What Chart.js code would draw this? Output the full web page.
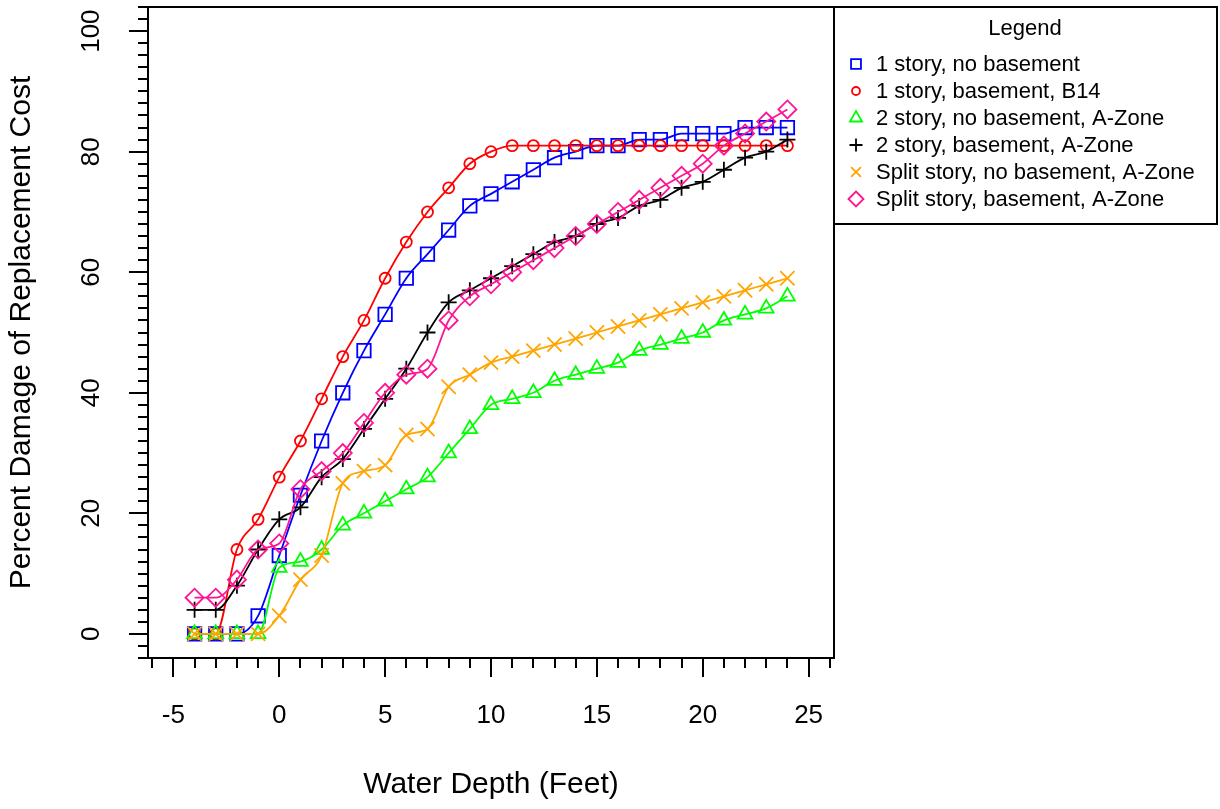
<!DOCTYPE html>
<html>
<head>
<meta charset="utf-8">
<script src="https://cdn.jsdelivr.net/npm/chart.js@4.4.1/dist/chart.umd.min.js"></script>
<style>
  body { margin: 0; background: #fff; }
  canvas { display: block; }
</style>
</head>
<body>
<canvas id="grafico" width="1220" height="809"></canvas>
<script>
// profundidade da agua (pes)
const profundidade = [-4, -3, -2, -1, 0, 1, 2, 3, 4, 5, 6, 7, 8, 9, 10, 11, 12, 13, 14, 15, 16, 17, 18, 19, 20, 21, 22, 23, 24];

const umAndarSemPorao = [0, 0, 0, 3, 13, 23, 32, 40, 47, 53, 59, 63, 67, 71, 73, 75, 77, 79, 80, 81, 81, 82, 82, 83, 83, 83, 84, 84, 84];
const umAndarComPorao = [0, 0, 14, 19, 26, 32, 39, 46, 52, 59, 65, 70, 74, 78, 80, 81, 81, 81, 81, 81, 81, 81, 81, 81, 81, 81, 81, 81, 81];
const doisAndaresSemPorao = [0, 0, 0, 0, 11, 12, 14, 18, 20, 22, 24, 26, 30, 34, 38, 39, 40, 42, 43, 44, 45, 47, 48, 49, 50, 52, 53, 54, 56];
const doisAndaresComPorao = [4, 4, 8, 14, 19, 21, 26, 29, 34, 39, 44, 50, 55, 57, 59, 61, 63, 65, 66, 68, 69, 71, 72, 74, 75, 77, 79, 80, 82];
const splitSemPorao = [0, 0, 0, 0, 3, 9, 13, 25, 27, 28, 33, 34, 41, 43, 45, 46, 47, 48, 49, 50, 51, 52, 53, 54, 55, 56, 57, 58, 59];
const splitComPorao = [6, 6, 9, 14, 15, 24, 27, 30, 35, 40, 43, 44, 52, 56, 58, 60, 62, 64, 66, 68, 70, 72, 74, 76, 78, 81, 83, 85, 87];

const nomesSeries = [
    '1 story, no basement',
    '1 story, basement, B14',
    '2 story, no basement, A-Zone',
    '2 story, basement, A-Zone',
    'Split story, no basement, A-Zone',
    'Split story, basement, A-Zone'
];

const ticksX = [-5, 0, 5, 10, 15, 20, 25];
const ticksY = [0, 20, 40, 60, 80, 100];

const FONTE = "'Liberation Sans', Arial, sans-serif";

// estilo de cada serie: cor, marcador, tamanho no grafico e na legenda
const estilos = [
    { cor: '#0000FF', marcador: 'rect', raio: 9.5, raioLegenda: 7 },
    { cor: '#FF0000', marcador: 'circle', raio: 5.5, raioLegenda: 4 },
    { cor: '#00FF00', marcador: 'triangle', raio: 8.5, raioLegenda: 7 },
    { cor: '#000000', marcador: 'cross', raio: 8, raioLegenda: 6.5 },
    { cor: '#FFA500', marcador: 'crossRot', raio: 10, raioLegenda: 7 },
    { cor: '#FF1493', marcador: 'rectRot', raio: 9, raioLegenda: 7.5 }
];

const valores = [umAndarSemPorao, umAndarComPorao, doisAndaresSemPorao, doisAndaresComPorao, splitSemPorao, splitComPorao];

const datasets = valores.map((serie, i) => ({
    label: nomesSeries[i],
    data: serie.map((v, j) => ({ x: profundidade[j], y: v })),
    borderColor: estilos[i].cor,
    borderWidth: 1.8,
    pointStyle: estilos[i].marcador,
    pointRadius: estilos[i].raio,
    pointBorderColor: estilos[i].cor,
    pointBackgroundColor: 'rgba(0,0,0,0)',
    pointBorderWidth: 1.8,
    cubicInterpolationMode: 'monotone',
    fill: false,
    clip: false,
    order: 6 - i
}));

// moldura e marcas de escala no estilo do R
const molduraPlugin = {
    id: 'moldura',
    afterDraw(chart) {
        const ctx = chart.ctx;
        const area = chart.chartArea;
        const sx = chart.scales.x;
        const sy = chart.scales.y;
        ctx.save();
        ctx.strokeStyle = '#000';
        ctx.lineWidth = 2;
        ctx.strokeRect(area.left, area.top, area.right - area.left, area.bottom - area.top);

        ctx.beginPath();
        for (let v = -6; v <= 26; v++) {
            const px = Math.round(sx.getPixelForValue(v));
            const tam = v % 5 == 0 ? 19 : 10;
            ctx.moveTo(px, area.bottom);
            ctx.lineTo(px, area.bottom + tam);
        }
        for (let v = -4; v <= 104; v += 2) {
            const py = Math.round(sy.getPixelForValue(v));
            const tam = v % 20 == 0 ? 19 : 10;
            ctx.moveTo(area.left, py);
            ctx.lineTo(area.left - tam, py);
        }
        ctx.stroke();
        ctx.restore();
    }
};

// legenda com caixa, a direita do grafico
const legendaPlugin = {
    id: 'legendaCaixa',
    afterDraw(chart) {
        const ctx = chart.ctx;
        const esq = chart.chartArea.right;
        const topo = 7;
        const dir = 1217;
        const base = 224;
        ctx.save();
        ctx.strokeStyle = '#000';
        ctx.lineWidth = 2;
        ctx.strokeRect(esq, topo, dir - esq, base - topo);

        ctx.fillStyle = '#000';
        ctx.font = `22px ${FONTE}`;
        ctx.textAlign = 'center';
        ctx.textBaseline = 'middle';
        ctx.fillText('Legend', 1025, 29);

        ctx.textAlign = 'left';
        for (let i = 0; i < nomesSeries.length; i++) {
            const y = 64 + i * 27;
            ctx.strokeStyle = estilos[i].cor;
            ctx.fillStyle = 'rgba(0,0,0,0)';
            ctx.lineWidth = 1.8;
            Chart.helpers.drawPoint(ctx, {
                pointStyle: estilos[i].marcador,
                radius: estilos[i].raioLegenda,
                borderWidth: 1.8,
                rotation: 0
            }, 856, y);
            ctx.fillStyle = '#000';
            ctx.fillText(nomesSeries[i], 876, y + 1);
        }
        ctx.restore();
    }
};

Chart.defaults.font.family = FONTE;
Chart.defaults.color = '#000';

new Chart(document.getElementById('grafico'), {
    type: 'line',
    data: { datasets: datasets },
    options: {
        responsive: false,
        animation: false,
        devicePixelRatio: 1,
        layout: {
            autoPadding: false,
            padding: { left: 0, top: 7, right: 386, bottom: 0 }
        },
        scales: {
            x: {
                type: 'linear',
                min: -6.2,
                max: 26.2,
                grid: { display: false, drawTicks: false },
                border: { display: false },
                afterBuildTicks: (escala) => { escala.ticks = ticksX.map(v => ({ value: v })); },
                afterFit: (escala) => {
                    escala.height = 151;
                    escala.paddingLeft = 0;
                    escala.paddingRight = 0;
                },
                ticks: {
                    autoSkip: false,
                    maxRotation: 0,
                    padding: 42,
                    color: '#000',
                    font: { size: 26 }
                },
                title: {
                    display: true,
                    text: 'Water Depth (Feet)',
                    color: '#000',
                    font: { size: 30 },
                    padding: { top: 0, bottom: 6 }
                }
            },
            y: {
                type: 'linear',
                min: -4,
                max: 104,
                grid: { display: false, drawTicks: false },
                border: { display: false },
                afterBuildTicks: (escala) => { escala.ticks = ticksY.map(v => ({ value: v })); },
                afterFit: (escala) => {
                    escala.width = 148;
                    escala.paddingTop = 0;
                    escala.paddingBottom = 0;
                },
                ticks: {
                    autoSkip: false,
                    minRotation: 90,
                    maxRotation: 90,
                    crossAlign: 'center',
                    padding: 34,
                    color: '#000',
                    font: { size: 26 }
                },
                title: {
                    display: true,
                    text: 'Percent Damage of Replacement Cost',
                    color: '#000',
                    font: { size: 30 },
                    padding: { top: 4, bottom: 0 }
                }
            }
        },
        plugins: {
            legend: { display: false },
            tooltip: { enabled: false }
        }
    },
    plugins: [molduraPlugin, legendaPlugin]
});
</script>
</body>
</html>
